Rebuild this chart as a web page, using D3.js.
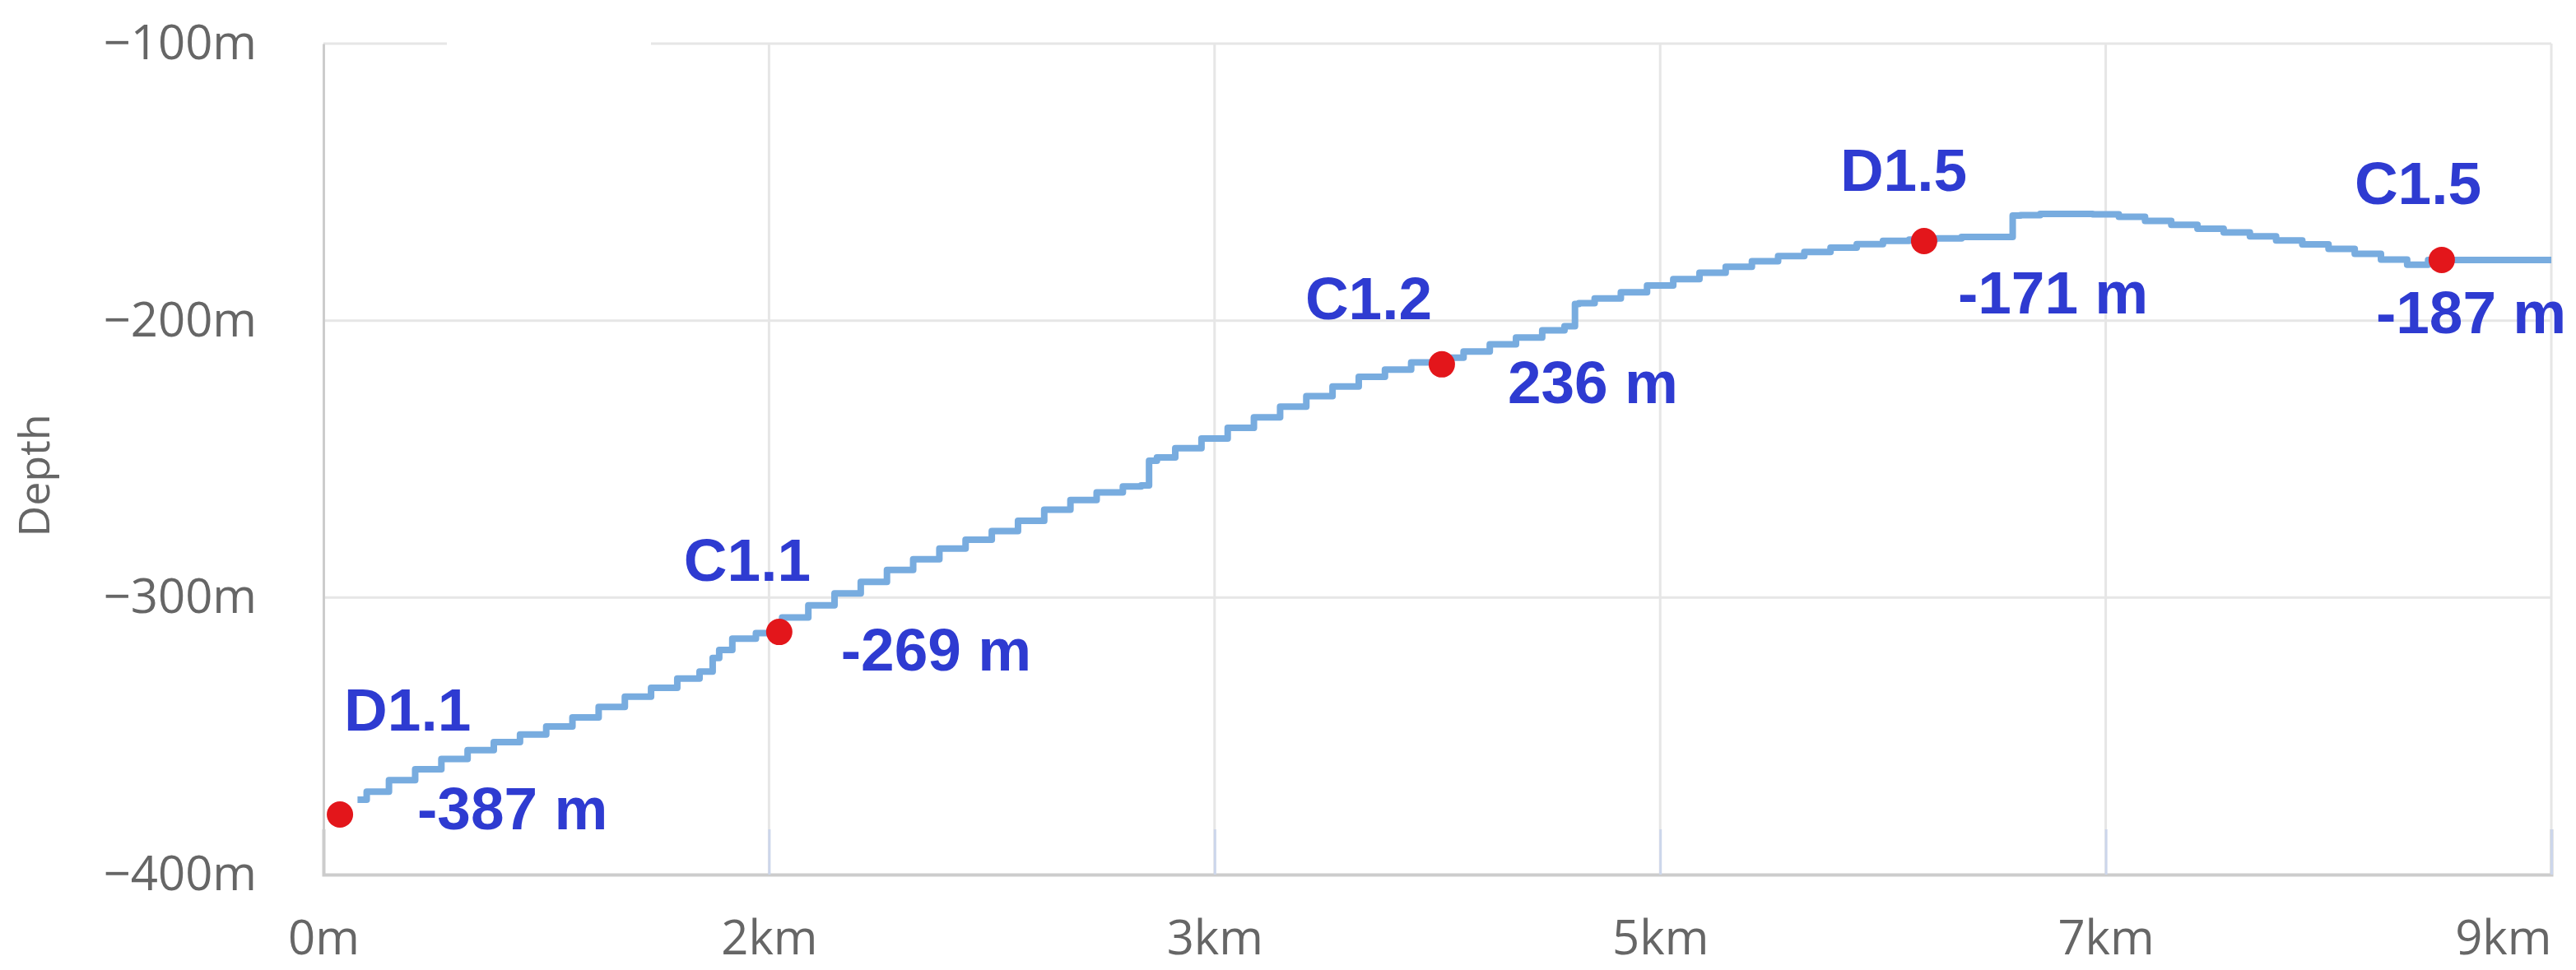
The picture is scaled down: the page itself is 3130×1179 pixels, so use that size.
<!DOCTYPE html>
<html>
<head>
<meta charset="utf-8">
<script src="https://cdn.jsdelivr.net/npm/d3@7"></script>
<style>
  html, body { margin: 0; padding: 0; background: #fff; }
  svg { display: block; }
</style>
</head>
<body>
<svg id="chart" width="3130" height="1179"></svg>
<script>
// ---------- data ----------
const xTickValues = [0, 1.7, 3.4, 5.1, 6.8, 8.5];
const xTickLabels = ["0m", "2km", "3km", "5km", "7km", "9km"];
const yTickValues = [-100, -200, -300, -400];
const yTickLabels = ["\u2212100m", "\u2212200m", "\u2212300m", "\u2212400m"];
const yAxisTitle = "Depth";

const profileDistance = [0.13,0.2,0.3,0.4,0.5,0.6,0.7,0.8,0.9,1.0,1.1,1.2,1.3,1.4,1.47,1.5,1.52,1.6,1.7,1.8,1.9,2.0,2.1,2.2,2.3,2.4,2.5,2.6,2.7,2.8,2.9,3.0,3.1,3.14,3.16,3.2,3.3,3.4,3.5,3.6,3.7,3.8,3.9,4.0,4.1,4.2,4.3,4.4,4.5,4.6,4.7,4.77,4.78,4.8,4.9,5.0,5.1,5.2,5.3,5.4,5.5,5.6,5.7,5.8,5.9,6.0,6.1,6.2,6.3,6.4,6.44,6.45,6.5,6.6,6.7,6.8,6.9,7.0,7.1,7.2,7.3,7.4,7.5,7.6,7.7,7.8,7.9,8.0,8.06,8.5];
const profileDepth = [-373.0,-370.1,-365.9,-362.0,-358.3,-355.1,-352.2,-349.4,-346.5,-343.3,-339.5,-335.8,-332.6,-329.2,-326.7,-321.8,-318.9,-314.8,-312.8,-307.2,-302.8,-298.5,-294.3,-290.0,-286.2,-282.3,-279.1,-276.0,-272.3,-268.3,-264.8,-262.0,-259.9,-259.5,-250.6,-249.4,-246.1,-242.6,-238.7,-234.9,-231.1,-227.3,-223.8,-220.3,-217.7,-215.1,-213.4,-211.2,-208.6,-206.1,-203.5,-202.0,-194.0,-193.7,-192.0,-189.8,-187.3,-185.0,-182.7,-180.6,-178.6,-176.7,-175.2,-173.7,-172.4,-171.2,-170.8,-170.3,-169.8,-169.8,-169.8,-162.1,-161.9,-161.5,-161.5,-161.6,-162.5,-164.0,-165.4,-166.8,-168.2,-169.6,-171.1,-172.5,-174.1,-175.9,-178.0,-179.8,-178.1,-178.1];

const stationNames = ["D1.1", "C1.1", "C1.2", "D1.5", "C1.5"];
const stationDistance = [0.063, 1.739, 4.267, 6.107, 8.082];
const stationDepth = [-378.3, -312.4, -215.8, -171.3, -178.1];
const stationValueLabels = ["-387 m", "-269 m", "236 m", "-171 m", "-187 m"];

// ---------- layout (not data) ----------
const nameOffsets  = [[5, -102], [-116, -62], [-166, -55], [-102, -61], [-106, -68]];
const valueOffsets = [[94, 18], [75, 47], [80, 47], [41, 88], [-80, 89]];

const margin = { left: 393, top: 53, right: 30, bottom: 116 };
const W = 3130, H = 1179;
const plotW = W - margin.left - margin.right;   // 2707
const plotH = H - margin.top - margin.bottom;   // 1010

const svg = d3.select("#chart");
const g = svg.append("g").attr("transform", `translate(${margin.left},${margin.top})`);

const x = d3.scaleLinear().domain([0, 8.5]).range([0, plotW]);
const y = d3.scaleLinear().domain([-400, -100]).range([plotH, 0]);

// grid lines
g.append("g").selectAll("line.hgrid").data(yTickValues.filter(v => v !== -400)).enter()
  .append("line").attr("class", "hgrid")
  .attr("x1", 0).attr("x2", plotW)
  .attr("y1", d => y(d)).attr("y2", d => y(d))
  .attr("stroke", "#e6e6e6").attr("stroke-width", 3);

g.append("g").selectAll("line.vgrid").data(xTickValues.filter(v => v !== 0)).enter()
  .append("line").attr("class", "vgrid")
  .attr("x1", d => x(d)).attr("x2", d => x(d))
  .attr("y1", 0).attr("y2", plotH)
  .attr("stroke", "#e6e6e6").attr("stroke-width", 3);

// gap in top grid line (as in the reference)
g.append("rect").attr("x", 150).attr("y", -6).attr("width", 248).attr("height", 12).attr("fill", "#fff");

// x axis
const xAxis = d3.axisBottom(x)
  .tickValues(xTickValues)
  .tickFormat((d, i) => xTickLabels[i])
  .tickSize(-55)
  .tickPadding(56);
const gx = g.append("g").attr("transform", `translate(0,${plotH})`).call(xAxis);
gx.select(".domain").attr("stroke", "#cccccc").attr("stroke-width", 4);
gx.selectAll(".tick line").attr("stroke", "#ccd6eb").attr("stroke-width", 3);
gx.selectAll(".tick text")
  .attr("fill", "#666666")
  .style("font-family", "'Open Sans', 'Noto Sans', sans-serif")
  .style("font-size", "58px");
gx.selectAll(".tick text").filter((d, i) => i === xTickValues.length - 1)
  .attr("text-anchor", "end").attr("dx", 0);

// y axis
const yAxis = d3.axisLeft(y)
  .tickValues(yTickValues)
  .tickFormat((d, i) => yTickLabels[i])
  .tickSize(0)
  .tickPadding(81);
const gy = g.append("g").call(yAxis);
gy.select(".domain").attr("stroke", "#cccccc").attr("stroke-width", 3);
gy.selectAll(".tick text")
  .attr("fill", "#666666")
  .style("font-family", "'Open Sans', 'Noto Sans', sans-serif")
  .style("font-size", "58px");

// y axis title
svg.append("text")
  .attr("transform", `translate(60,${margin.top + plotH / 2 + 20}) rotate(-90)`)
  .attr("text-anchor", "middle")
  .attr("fill", "#666666")
  .style("font-family", "'Open Sans', 'Noto Sans', sans-serif")
  .style("font-size", "52px")
  .text(yAxisTitle);

// profile line
const profile = profileDistance.map((d, i) => ({ d, v: profileDepth[i] }));
const line = d3.line().x(p => x(p.d)).y(p => y(p.v)).curve(d3.curveStep);
g.append("path")
  .datum(profile)
  .attr("d", line)
  .attr("fill", "none")
  .attr("stroke", "#78acdf")
  .attr("stroke-width", 8)
  .attr("stroke-linejoin", "round");

// stations
const stations = stationNames.map((n, i) => ({
  name: n, d: stationDistance[i], v: stationDepth[i], label: stationValueLabels[i],
  no: nameOffsets[i], vo: valueOffsets[i]
}));

g.append("g").selectAll("circle").data(stations).enter()
  .append("circle")
  .attr("cx", s => x(s.d)).attr("cy", s => y(s.v))
  .attr("r", 16)
  .attr("fill", "#e3161b");

const labelFont = "'Liberation Sans', Arial, Helvetica, sans-serif";
g.append("g").selectAll("text.name").data(stations).enter()
  .append("text").attr("class", "name")
  .attr("x", s => x(s.d) + s.no[0]).attr("y", s => y(s.v) + s.no[1])
  .attr("fill", "#2e3bd1")
  .style("font-family", labelFont).style("font-weight", "bold").style("font-size", "73px")
  .text(s => s.name);

g.append("g").selectAll("text.val").data(stations).enter()
  .append("text").attr("class", "val")
  .attr("x", s => x(s.d) + s.vo[0]).attr("y", s => y(s.v) + s.vo[1])
  .attr("fill", "#2e3bd1")
  .style("font-family", labelFont).style("font-weight", "bold").style("font-size", "73px")
  .text(s => s.label);
</script>
</body>
</html>
